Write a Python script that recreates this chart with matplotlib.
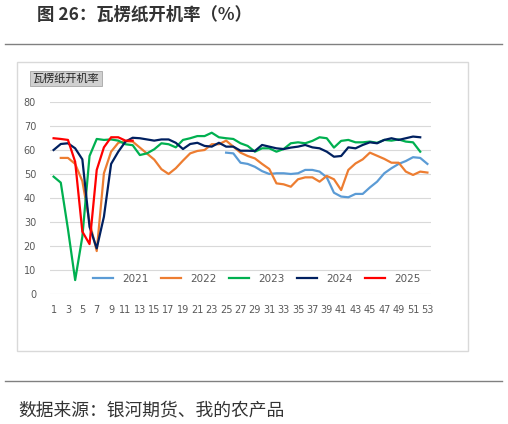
import numpy as np
import matplotlib
matplotlib.use("Agg")
import matplotlib.pyplot as plt
from matplotlib.lines import Line2D

plt.rcParams['font.family'] = ['DejaVu Sans', 'Noto Sans CJK SC']

weeks = list(range(1, 54))
nan = np.nan

s2021 = [nan]*24 + [58.9, 58.6, 54.7, 54.2, 53.0, 51.2, 50.0, 50.3, 50.3, 50.0,
                    50.3, 51.7, 51.7, 51.0, 48.6, 42.2, 40.6, 40.3, 41.7, 41.7,
                    44.4, 46.8, 50.3, 52.4, 54.2, 55.4, 57.0, 56.7, 54.2]
s2022 = [nan, 56.7, 56.7, 54.2, 47.0, 30.0, 17.9, 50.3, 59.3, 63.0,
         63.7, 63.5, 61.0, 58.5, 56.0, 52.0, 50.0, 52.4, 55.6, 58.6,
         59.6, 60.0, 62.4, 62.4, 63.9, 61.4, 58.9, 57.5, 56.5, 54.2,
         52.1, 46.1, 45.7, 44.7, 47.8, 48.6, 48.6, 46.8, 49.2, 47.8,
         43.3, 51.7, 54.4, 56.1, 58.9, 57.6, 56.3, 54.7, 54.7, 51.0,
         49.6, 51.0, 50.6]
s2023 = [48.9, 46.4, 27.0, 5.8, 23.9, 57.5, 64.6, 64.2, 64.4, 63.9,
         62.4, 62.0, 57.9, 58.6, 60.3, 62.8, 62.4, 61.1, 64.2, 64.9,
         65.8, 65.8, 67.2, 65.3, 64.9, 64.6, 62.8, 61.7, 59.3, 60.7,
         60.7, 59.3, 60.4, 62.8, 63.2, 62.8, 63.8, 65.3, 64.9, 61.0,
         63.8, 64.2, 63.2, 63.2, 63.5, 63.0, 64.2, 63.9, 64.4, 63.5,
         63.2, 59.3, nan]
s2024 = [60.0, 62.5, 62.8, 60.7, 56.1, 28.0, 19.0, 32.2, 54.2, 59.3,
         63.5, 65.1, 64.9, 64.4, 63.9, 64.4, 64.4, 63.0, 60.4, 62.5,
         63.0, 61.7, 61.4, 63.0, 61.4, 61.4, 59.7, 59.7, 59.6, 62.1,
         61.4, 60.7, 60.4, 61.0, 61.4, 62.1, 61.1, 60.7, 59.3, 57.2,
         57.5, 61.1, 60.7, 62.1, 63.2, 62.8, 64.2, 64.9, 64.2, 64.9,
         65.6, 65.3, nan]
s2025 = [64.9, 64.6, 64.2, 55.1, 26.0, 20.8, 51.7, 61.1, 65.3, 65.3,
         63.9, 63.9] + [nan]*41

series_names = ['2021', '2022', '2023', '2024', '2025']
series_vals = [s2021, s2022, s2023, s2024, s2025]
colors = ['#5B9BD5', '#ED7D31', '#00B050', '#002060', '#FF0000']
yticks = [0, 10, 20, 30, 40, 50, 60, 70, 80]
xtick_labels = [str(w) for w in weeks if w % 2 == 1]

W, H = 508, 424
fig = plt.figure(figsize=(W/100, H/100), dpi=100)
fig.patch.set_facecolor('white')

def fx(px):
    return px / W

def fy(py):
    return 1 - py / H

# title and separator lines
fig.text(fx(37), fy(15), '图 26：瓦楞纸开机率（%）', fontsize=12.5, fontweight='bold',
         color='#333333', ha='left', va='center', family=['Noto Sans CJK SC', 'DejaVu Sans'])
fig.add_artist(Line2D([fx(5), fx(502)], [fy(44), fy(44)], color='#808080', lw=1.0))
fig.add_artist(Line2D([fx(5), fx(502)], [fy(381), fy(381)], color='#808080', lw=1.0))
fig.text(fx(18), fy(410), '数据来源：银河期货、我的农产品', fontsize=12.8,
         color='#333333', ha='left', va='center', family=['Noto Sans CJK SC', 'DejaVu Sans'])

# chart box
box = plt.Rectangle((fx(17), fy(351)), fx(468) - fx(17), fy(62) - fy(351),
                    transform=fig.transFigure, facecolor='white', edgecolor='#D9D9D9',
                    lw=1.0, zorder=-10)
fig.add_artist(box)

fig.text(fx(66), fy(78.5), '瓦楞纸开机率', fontsize=8, color='#262626', ha='center', va='center',
         family=['Noto Sans CJK SC', 'DejaVu Sans'],
         bbox=dict(boxstyle='square,pad=0.2', facecolor='#D0D0D0', edgecolor='#A6A6A6', lw=0.6))

ax = fig.add_axes([fx(50), fy(294), fx(431) - fx(50), fy(102) - fy(294)])
ax.set_zorder(5)
ax.set_facecolor('none')
for name, vals, c in zip(series_names, series_vals, colors):
    ax.plot(weeks, vals, color=c, lw=1.6, label=name, solid_joinstyle='round')

ax.set_xlim(0.5, 53.5)
ax.set_ylim(0, 80)
ax.set_yticks(yticks)
ax.set_xticks([w for w in weeks if w % 2 == 1])
ax.set_xticklabels(xtick_labels)
ax.grid(axis='y', color='#D9D9D9', lw=0.8)
ax.set_axisbelow(True)
for sp in ax.spines.values():
    sp.set_visible(False)
ax.tick_params(axis='both', length=0, labelsize=7, colors='#595959')
ax.tick_params(axis='y', pad=10)
ax.tick_params(axis='x', pad=8)

leg = ax.legend(loc='center', bbox_to_anchor=(fx(257) / 1.0, fy(279)),
                bbox_transform=fig.transFigure, ncol=5, frameon=False,
                fontsize=7.5, handlelength=1.9, handletextpad=0.9, columnspacing=1.2,
                labelcolor='#595959', borderpad=0, borderaxespad=0)

fig.savefig('out.png', dpi=100, facecolor='white')
